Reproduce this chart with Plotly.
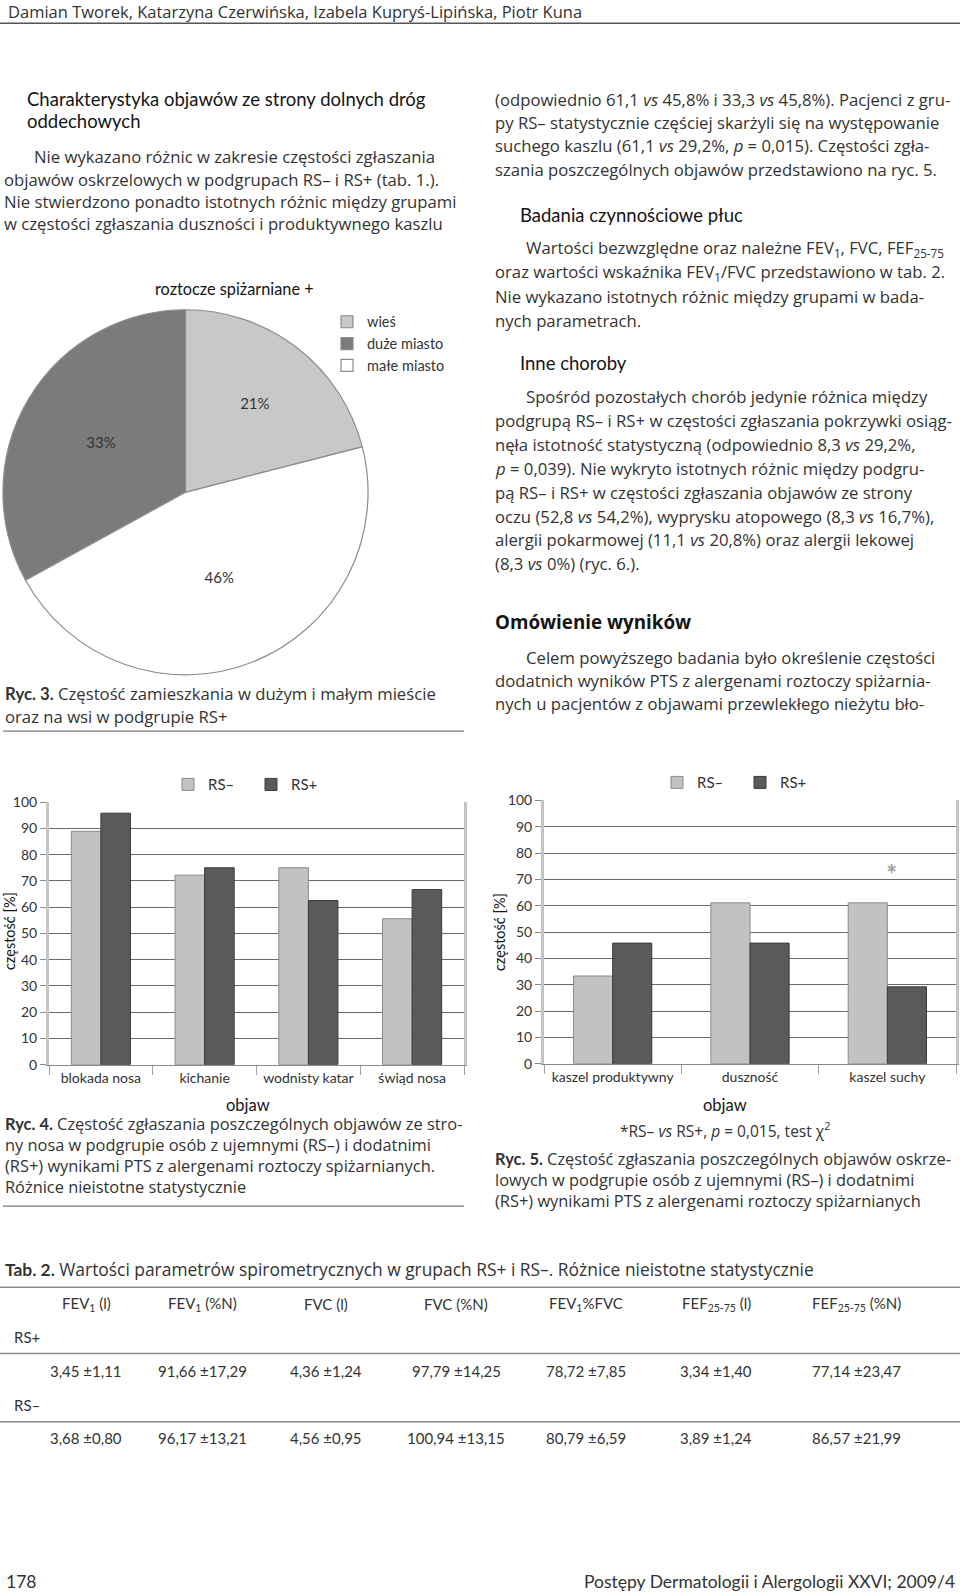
import plotly.graph_objects as go

W, H = 960, 1596
FONT = "Lato, 'Open Sans', sans-serif"
BODY = "'Open Sans', 'Noto Sans', sans-serif"
BOLDFONT = "'Open Sans', Lato, sans-serif"
TXT = "#333333"
DARK = "#151515"


def px(x):
    return x / W


def py(y):
    return 1 - y / H


# ---------------- data ----------------
pie_labels = ["wieś", "duże miasto", "małe miasto"]
pie_values = [21, 33, 46]
pie_colors = ["#c8c8c8", "#7b7b7b", "#ffffff"]

nose_symptoms = ["blokada nosa", "kichanie", "wodnisty katar", "świąd nosa"]
nose_rs_neg = [88.9, 72.2, 75.0, 55.6]
nose_rs_pos = [95.8, 75.0, 62.5, 66.7]

lower_symptoms = ["kaszel produktywny", "duszność", "kaszel suchy"]
lower_rs_neg = [33.3, 61.1, 61.1]
lower_rs_pos = [45.8, 45.8, 29.2]

series_names = ["RS–", "RS+"]
series_colors = ["#c2c2c2", "#5a5a5a"]
series_lines = ["#8a8a8a", "#3a3a3a"]
y_ticks = [0, 10, 20, 30, 40, 50, 60, 70, 80, 90, 100]

table_columns = ["FEV<sub>1</sub> (l)", "FEV<sub>1</sub> (%N)", "FVC (l)", "FVC (%N)",
                 "FEV<sub>1</sub>%FVC", "FEF<sub>25-75</sub> (l)", "FEF<sub>25-75</sub> (%N)"]
table_groups = ["RS+", "RS–"]
table_rs_pos = ["3,45 ±1,11", "91,66 ±17,29", "4,36 ±1,24", "97,79 ±14,25",
                "78,72 ±7,85", "3,34 ±1,40", "77,14 ±23,47"]
table_rs_neg = ["3,68 ±0,80", "96,17 ±13,21", "4,56 ±0,95", "100,94 ±13,15",
                "80,79 ±6,59", "3,89 ±1,24", "86,57 ±21,99"]

header_text = "Damian Tworek, Katarzyna Czerwińska, Izabela Kupryś-Lipińska, Piotr Kuna"
footer_left = "178"
footer_right = "Postępy Dermatologii i Alergologii XXVI; 2009/4"

left_heading = ["Charakterystyka objawów ze strony dolnych dróg", "oddechowych"]
left_body = ["Nie wykazano różnic w zakresie częstości zgłaszania",
             "objawów oskrzelowych w podgrupach RS– i RS+ (tab. 1.).",
             "Nie stwierdzono ponadto istotnych różnic między grupami",
             "w częstości zgłaszania duszności i produktywnego kaszlu"]

right_par1 = ["(odpowiednio 61,1 <i>vs</i> 45,8% i 33,3 <i>vs</i> 45,8%). Pacjenci z gru-",
              "py RS– statystycznie częściej skarżyli się na występowanie",
              "suchego kaszlu (61,1 <i>vs</i> 29,2%, <i>p</i> = 0,015). Częstości zgła-",
              "szania poszczególnych objawów przedstawiono na ryc. 5."]
right_head2 = "Badania czynnościowe płuc"
right_par2 = ["Wartości bezwzględne oraz należne FEV<sub>1</sub>, FVC, FEF<sub>25-75</sub>",
              "oraz wartości wskaźnika FEV<sub>1</sub>/FVC przedstawiono w tab. 2.",
              "Nie wykazano istotnych różnic między grupami w bada-",
              "nych parametrach."]
right_head3 = "Inne choroby"
right_par3 = ["Spośród pozostałych chorób jedynie różnica między",
              "podgrupą RS– i RS+ w częstości zgłaszania pokrzywki osiąg-",
              "nęła istotność statystyczną (odpowiednio 8,3 <i>vs</i> 29,2%,",
              "<i>p</i> = 0,039). Nie wykryto istotnych różnic między podgru-",
              "pą RS– i RS+ w częstości zgłaszania objawów ze strony",
              "oczu (52,8 <i>vs</i> 54,2%), wyprysku atopowego (8,3 <i>vs</i> 16,7%),",
              "alergii pokarmowej (11,1 <i>vs</i> 20,8%) oraz alergii lekowej",
              "(8,3 <i>vs</i> 0%) (ryc. 6.)."]
right_head4 = "Omówienie wyników"
right_par4 = ["Celem powyższego badania było określenie częstości",
              "dodatnich wyników PTS z alergenami roztoczy spiżarnia-",
              "nych u pacjentów z objawami przewlekłego nieżytu bło-"]

LBL = '<span style="font-family:Lato"><b>%s</b></span> '
pie_title = "roztocze spiżarniane +"
ryc3 = [LBL % "Ryc. 3." + "Częstość zamieszkania w dużym i małym mieście",
        "oraz na wsi w podgrupie RS+"]
ryc4 = [LBL % "Ryc. 4." + "Częstość zgłaszania poszczególnych objawów ze stro-",
        "ny nosa w podgrupie osób z ujemnymi (RS–) i dodatnimi",
        "(RS+) wynikami PTS z alergenami roztoczy spiżarnianych.",
        "Różnice nieistotne statystycznie"]
ryc5 = [LBL % "Ryc. 5." + "Częstość zgłaszania poszczególnych objawów oskrze-",
        "lowych w podgrupie osób z ujemnymi (RS–) i dodatnimi",
        "(RS+) wynikami PTS z alergenami roztoczy spiżarnianych"]
ryc5_note = "*RS– <i>vs</i> RS+, <i>p</i> = 0,015, test χ<sup>2</sup>"
tab2_title = LBL % "Tab. 2." + "Wartości parametrów spirometrycznych w grupach RS+ i RS–. Różnice nieistotne statystycznie"
axis_title_y = "częstość [%]"
axis_title_x = "objaw"

# ---------------- figure ----------------
fig = go.Figure()

fig.add_trace(go.Pie(
    labels=pie_labels, values=pie_values, sort=False, direction="counterclockwise",
    rotation=0, marker=dict(colors=pie_colors, line=dict(color="#8c8c8c", width=1.2)),
    texttemplate="%{value}%", textposition="inside", insidetextorientation="horizontal",
    textfont=dict(size=15, color=TXT, family=FONT), hoverinfo="skip",
    domain=dict(x=[px(1), px(370)], y=[py(673), py(304)]),
    legend="legend", showlegend=True))

for i, name in enumerate(series_names):
    vals = nose_rs_neg if i == 0 else nose_rs_pos
    fig.add_trace(go.Bar(x=nose_symptoms, y=vals, name=name, xaxis="x", yaxis="y",
                         marker=dict(color=series_colors[i], line=dict(color=series_lines[i], width=1)),
                         legend="legend2", hoverinfo="skip"))
for i, name in enumerate(series_names):
    vals = lower_rs_neg if i == 0 else lower_rs_pos
    fig.add_trace(go.Bar(x=lower_symptoms, y=vals, name=name, xaxis="x2", yaxis="y2",
                         marker=dict(color=series_colors[i], line=dict(color=series_lines[i], width=1)),
                         legend="legend3", hoverinfo="skip"))

xaxis_common = dict(type="category", showgrid=False, showline=True, linecolor="#8a8a8a", linewidth=1.5,
                    ticks="outside", tickson="boundaries", ticklen=9, tickcolor="#a0a0a0",
                    tickfont=dict(size=14, color=TXT, family=FONT), fixedrange=True)
yaxis_common = dict(range=[0, 100], tickvals=y_ticks, showgrid=True, gridcolor="#6a6a6a", gridwidth=1,
                    zeroline=False, showline=True, linecolor="#c4c4c4", linewidth=3, mirror=True,
                    ticks="outside", ticklen=6, tickcolor="#8a8a8a",
                    tickfont=dict(size=14, color=TXT, family=FONT), fixedrange=True)

legend_font = dict(size=15, color=TXT, family=FONT)
fig.update_layout(
    width=W, height=H, margin=dict(l=0, r=0, t=0, b=0),
    paper_bgcolor="white", plot_bgcolor="white",
    font=dict(family=FONT, color=TXT, size=15),
    barmode="group",
    xaxis=dict(domain=[px(49), px(464)], anchor="y", **xaxis_common),
    yaxis=dict(domain=[py(1067), py(801.7)], anchor="x", **yaxis_common),
    xaxis2=dict(domain=[px(544), px(956)], anchor="y2", **xaxis_common),
    yaxis2=dict(domain=[py(1066), py(800)], anchor="x2", **yaxis_common),
    bargap=0.43,
    legend=dict(x=px(327), y=py(300), xanchor="left", yanchor="top", orientation="v",
                font=dict(size=14.5, color=TXT, family=FONT), bgcolor="rgba(0,0,0,0)",
                itemclick=False, itemdoubleclick=False),
    legend2=dict(x=px(168), y=py(784), xanchor="left", yanchor="middle", orientation="h",
                 entrywidth=38, entrywidthmode="pixels",
                 font=legend_font, bgcolor="rgba(0,0,0,0)",
                 itemclick=False, itemdoubleclick=False),
    legend3=dict(x=px(657), y=py(782), xanchor="left", yanchor="middle", orientation="h",
                 entrywidth=38, entrywidthmode="pixels",
                 font=legend_font, bgcolor="rgba(0,0,0,0)",
                 itemclick=False, itemdoubleclick=False),
)

ann = []
shapes = []


def txt(x, y, s, size=16.7, color=TXT, anchor="left", family=BODY, yanchor="middle", **kw):
    ann.append(dict(x=px(x), y=py(y), xref="paper", yref="paper", text=s, showarrow=False,
                    xanchor=anchor, yanchor=yanchor, font=dict(size=size, color=color, family=family), **kw))


def hline(x0, x1, y, color="#777777", width=1.2):
    shapes.append(dict(type="line", xref="paper", yref="paper", x0=px(x0), x1=px(x1),
                       y0=py(y), y1=py(y), line=dict(color=color, width=width)))


# header / footer
txt(6, 2.5, header_text, size=16.5)
hline(0, 960, 14.5, color="#555555", width=1.5)
txt(4, 1589, footer_left, size=17.5, family=FONT)
txt(957, 1589, footer_right, size=17.5, anchor="right", family=FONT)

# left column text
for i, s in enumerate(left_heading):
    txt(25, 91 + i * 22.5, s, size=18.5, color=DARK, family=FONT)
for i, s in enumerate(left_body):
    txt(32 if i == 0 else 2, 149.5 + i * 22.6, s)

# right column text
for i, s in enumerate(right_par1):
    txt(493, 91 + i * 23.6, s)
txt(518, 208.5, right_head2, size=18.5, color=DARK, family=FONT)
for i, s in enumerate(right_par2):
    txt(524 if i == 0 else 493, 242.5 + i * 24.1, s)
txt(518, 357.5, right_head3, size=18.5, color=DARK, family=FONT)
for i, s in enumerate(right_par3):
    txt(524 if i == 0 else 493, 392 + i * 24.1, s)
txt(493, 619.5, "<b>" + right_head4 + "</b>", size=18.8, color=DARK, family=BOLDFONT)
for i, s in enumerate(right_par4):
    txt(524 if i == 0 else 493, 655 + i * 23.7, s)

# pie chart texts
txt(234, 283, pie_title, size=16.3, color=DARK, anchor="center", family=FONT)
for i, s in enumerate(ryc3):
    txt(3, 692 + i * 23, s)
hline(3, 464, 730, color="#777777", width=1.2)

# bar chart texts
txt(9, 932, axis_title_y, size=14.5, color=DARK, anchor="center", textangle=-90, family=FONT)
txt(499, 933, axis_title_y, size=14.5, color=DARK, anchor="center", textangle=-90, family=FONT)
txt(248, 1108, axis_title_x, size=16.5, color=DARK, anchor="center", family=FONT)
txt(725, 1108, axis_title_x, size=16.5, color=DARK, anchor="center", family=FONT)
ann.append(dict(x="kaszel suchy", y=72, xref="x2", yref="y2", text="<b>*</b>", showarrow=False,
                xanchor="center", yanchor="middle", xshift=4,
                font=dict(size=26, color="#a0a0a0", family=FONT)))
txt(725, 1133, ryc5_note, size=15.5, anchor="center")

for i, s in enumerate(ryc4):
    txt(3, 1127 + i * 21.2, s, size=16.4)
hline(3, 464, 1210, color="#777777", width=1.2)
for i, s in enumerate(ryc5):
    txt(493, 1162 + i * 21.3, s, size=16.4)

# table
txt(3, 1274, tab2_title, size=17.4)
col_x = [86, 202, 326, 456, 586, 716, 856]
for j, s in enumerate(table_columns):
    txt(col_x[j], 1309, s, size=15, anchor="center", family=FONT)
hline(0, 960, 1292, color="#8a8a8a", width=1.5)
txt(12, 1342, table_groups[0], size=15, family=FONT)
hline(0, 960, 1359, color="#8a8a8a", width=1.5)
for j, s in enumerate(table_rs_pos):
    txt(col_x[j], 1377, s, size=15, anchor="center", family=FONT)
txt(12, 1411, table_groups[1], size=15, family=FONT)
hline(0, 960, 1428, color="#8a8a8a", width=1.5)
for j, s in enumerate(table_rs_neg):
    txt(col_x[j], 1444, s, size=15, anchor="center", family=FONT)

fig.update_layout(annotations=ann, shapes=shapes)

fig.write_html("out.html", config={"displayModeBar": False, "staticPlot": True},
               post_script="document.body.style.margin='0';")
